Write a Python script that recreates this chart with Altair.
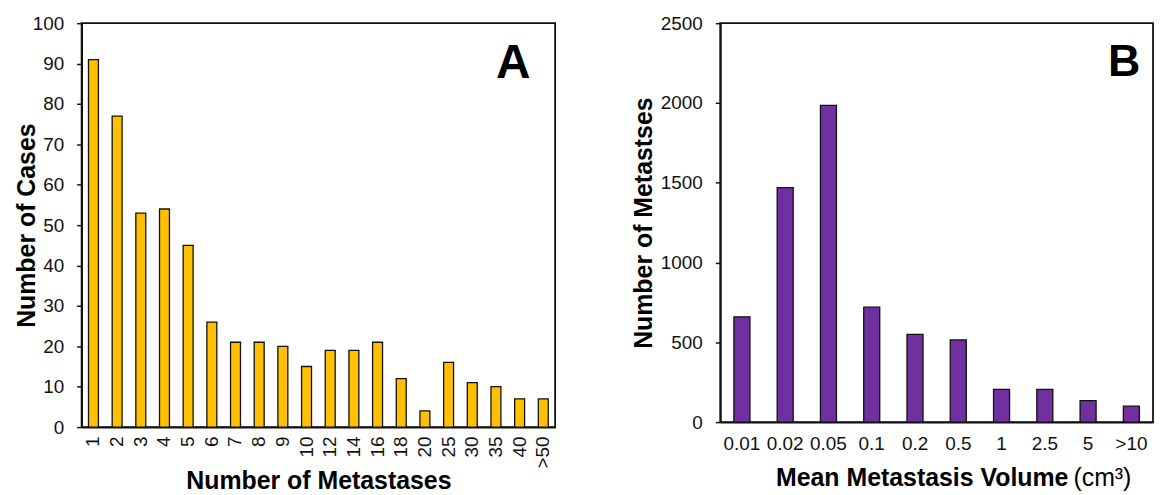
import altair as alt
import pandas as pd

# Panel A data
a_labels = ["1", "2", "3", "4", "5", "6", "7", "8", "9", "10", "12", "14", "16", "18", "20", "25", "30", "35", "40", ">50"]
a_values = [91, 77, 53, 54, 45, 26, 21, 21, 20, 15, 19, 19, 21, 12, 4, 16, 11, 10, 7, 7]

# Panel B data
b_labels = ["0.01", "0.02", "0.05", "0.1", "0.2", "0.5", "1", "2.5", "5", ">10"]
b_values = [660, 1470, 1985, 720, 550, 515, 205, 205, 135, 100]

a_ticks = list(range(0, 101, 10))
b_ticks = list(range(0, 2501, 500))

FONT = "Liberation Sans"

df_a = pd.DataFrame({"cat": a_labels, "val": a_values})
df_b = pd.DataFrame({"cat": b_labels, "val": b_values})

one = alt.Data(values=[{}])

bars_a = alt.Chart(df_a).mark_bar(color="#FFC000", stroke="#111111", strokeWidth=1.3).encode(
    x=alt.X("cat:N", sort=None,
            scale=alt.Scale(paddingInner=0.58, paddingOuter=0.29),
            axis=alt.Axis(title="Number of Metastases", labelAngle=270, ticks=False,
                          labelPadding=9, titleY=62, titleBaseline="alphabetic")),
    y=alt.Y("val:Q", scale=alt.Scale(domain=[0, 100], nice=False),
            axis=alt.Axis(title="Number of Cases", values=a_ticks, tickSize=5, labelPadding=13,
                          format="d", titleX=-47, titleBaseline="alphabetic")),
)
letter_a = alt.Chart(one).mark_text(text="A", font=FONT, fontWeight="bold", fontSize=48,
                                     align="center", baseline="alphabetic").encode(
    x=alt.value(434), y=alt.value(55))

chart_a = alt.layer(bars_a, letter_a).properties(width=476, height=406)

bars_b = alt.Chart(df_b).mark_bar(color="#7030A0", stroke="#111111", strokeWidth=1.3).encode(
    x=alt.X("cat:N", sort=None,
            scale=alt.Scale(paddingInner=0.63, paddingOuter=0.315),
            axis=alt.Axis(title=None, labelAngle=0, ticks=False, labelPadding=13)),
    y=alt.Y("val:Q", scale=alt.Scale(domain=[0, 2500], nice=False),
            axis=alt.Axis(title="Number of Metastses", values=b_ticks, tickSize=5, labelPadding=13,
                          format="d", titleX=-69, titleBaseline="alphabetic")),
)
letter_b = alt.Chart(one).mark_text(text="B", font=FONT, fontWeight="bold", fontSize=45,
                                     align="center", baseline="alphabetic").encode(
    x=alt.value(406), y=alt.value(53))
xt_bold = alt.Chart(one).mark_text(text="Mean Metastasis Volume", font=FONT, fontWeight="bold",
                                    fontSize=25, align="right", baseline="alphabetic", color="#000").encode(
    x=alt.value(350), y=alt.value(465))
xt_norm = alt.Chart(one).mark_text(text="(cm³)", font=FONT, fontWeight="normal",
                                    fontSize=25, align="left", baseline="alphabetic", color="#000").encode(
    x=alt.value(355), y=alt.value(465))

chart_b = alt.layer(bars_b, letter_b, xt_bold, xt_norm).properties(width=435, height=401)

chart = alt.hconcat(chart_a, chart_b, spacing=166, bounds="flush").properties(
    padding={"left": 6, "top": 4, "right": 0, "bottom": 0},
    background="white",
).configure_view(
    stroke="#111111", strokeWidth=1.8
).configure_axis(
    grid=False, domainColor="#111111", domainWidth=1.8, tickColor="#111111", tickWidth=1.5,
    labelFont=FONT, labelFontSize=19, labelColor="#111111",
    titleFont=FONT, titleFontSize=25, titleFontWeight="bold", titleColor="#000000",
)

chart.save("out.html", embed_options={"renderer": "svg", "actions": False})
